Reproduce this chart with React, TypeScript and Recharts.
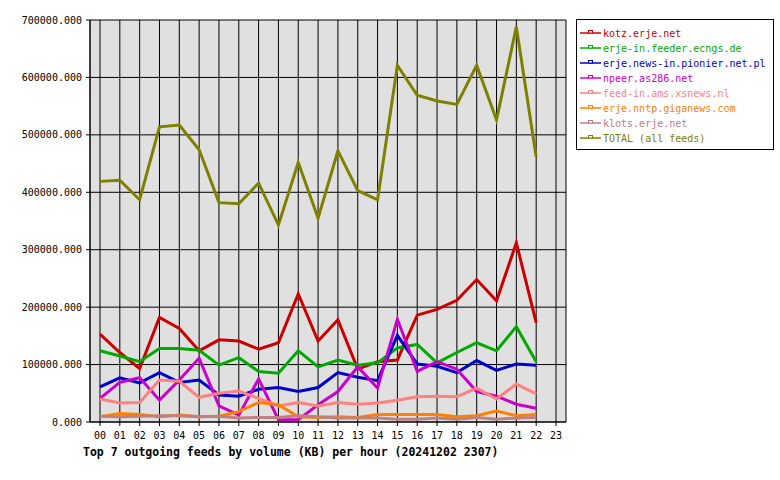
import React from 'react';
import { LineChart, Line, XAxis, YAxis, CartesianGrid } from 'recharts';

const hours = ['00', '01', '02', '03', '04', '05', '06', '07', '08', '09', '10', '11',
  '12', '13', '14', '15', '16', '17', '18', '19', '20', '21', '22', '23'];

const kotz = [153000, 121000, 93000, 182000, 163000, 124000, 143000, 141000, 127000, 138000, 223000, 141000,
  178000, 92000, 105000, 108000, 186000, 196000, 212000, 248000, 211000, 312000, 173000];
const ecngs = [124000, 115000, 105000, 128000, 128000, 125000, 99000, 112000, 88000, 85000, 124000, 96000,
  108000, 99000, 103000, 129000, 135000, 103000, 121000, 138000, 124000, 166000, 105000];
const pionier = [61000, 77000, 68000, 86000, 69000, 73000, 47000, 45000, 57000, 60000, 53000, 60000,
  86000, 78000, 72000, 151000, 101000, 97000, 86000, 107000, 90000, 101000, 99000];
const npeer = [41000, 69000, 77000, 38000, 73000, 111000, 28000, 12000, 75000, 4000, 4000, 30000,
  53000, 96000, 59000, 179000, 88000, 105000, 92000, 53000, 45000, 31000, 24000];
const xsnews = [40000, 33000, 34000, 73000, 71000, 43000, 50000, 54000, 41000, 28000, 34000, 28000,
  34000, 31000, 33000, 38000, 44000, 45000, 44000, 59000, 40000, 66000, 49000];
const giganews = [9000, 15000, 13000, 9000, 12000, 9000, 10000, 18000, 34000, 30000, 9000, 8000,
  9000, 8000, 13000, 13000, 13000, 13000, 9000, 11000, 19000, 11000, 13000];
const klots = [10000, 9000, 10000, 11000, 11000, 9000, 10000, 7000, 8000, 8000, 11000, 9000,
  7000, 7000, 7000, 5000, 5000, 7000, 5000, 8000, 5000, 7000, 8000];
const total = [419000, 421000, 387000, 514000, 517000, 474000, 382000, 380000, 416000, 343000, 452000, 355000,
  472000, 403000, 387000, 621000, 569000, 559000, 553000, 621000, 526000, 688000, 462000];

const yTicks = [0, 100000, 200000, 300000, 400000, 500000, 600000, 700000];

const series = [
  { key: 'kotz', name: 'kotz.erje.net', color: '#cc0000', values: kotz },
  { key: 'ecngs', name: 'erje-in.feeder.ecngs.de', color: '#00aa00', values: ecngs },
  { key: 'pionier', name: 'erje.news-in.pionier.net.pl', color: '#0000cc', values: pionier },
  { key: 'npeer', name: 'npeer.as286.net', color: '#cc00cc', values: npeer },
  { key: 'xsnews', name: 'feed-in.ams.xsnews.nl', color: '#ff8080', values: xsnews },
  { key: 'giganews', name: 'erje.nntp.giganews.com', color: '#ff8000', values: giganews },
  { key: 'klots', name: 'klots.erje.net', color: '#c08080', values: klots },
  { key: 'total', name: 'TOTAL (all feeds)', color: '#808000', values: total },
];

const rows = hours.map((hour, i) => {
  const row: Record<string, string | number | null> = { hour };
  series.forEach((s) => { row[s.key] = i < s.values.length ? s.values[i] : null; });
  return row;
});

const mono = '"DejaVu Sans Mono", "Liberation Mono", monospace';
const tickStyle = { fontSize: 10, fill: '#000', fontFamily: mono };

function LegendBox() {
  return (
    <svg width={200} height={132} style={{ position: 'absolute', left: 576, top: 19 }}>
      <rect x={0.5} y={0.5} width={197} height={130} fill="#fff" stroke="#000" />
      {series.map((s, i) => {
        const cy = 14 + i * 15;
        return (
          <g key={s.key}>
            <line x1={4} x2={25} y1={cy} y2={cy} stroke={s.color} strokeWidth={1.5} />
            <rect x={12.5} y={cy - 2.5} width={4} height={2.5} fill="#fff" stroke={s.color} strokeWidth={1} />
            <text x={27} y={cy} dy="0.35em" fontSize={10} fontFamily={mono} fill={s.color}>{s.name}</text>
          </g>
        );
      })}
    </svg>
  );
}

export default function App() {
  return (
    <div style={{ position: 'absolute', left: 0, top: 0, width: 780, height: 480, background: '#fff' }}>
      <LineChart width={780} height={480} data={rows} margin={{ top: 20, right: 214, bottom: 28, left: 0 }}>
        <CartesianGrid stroke="#000" fill="#e0e0e0" fillOpacity={1} />
        <XAxis
          dataKey="hour"
          interval={0}
          padding={{ left: 10, right: 10 }}
          height={30}
          tickSize={4}
          tickMargin={6}
          tick={tickStyle}
          tickLine={{ stroke: '#000' }}
          axisLine={{ stroke: '#000' }}
        />
        <YAxis
          width={90}
          domain={[0, 700000]}
          ticks={yTicks}
          interval={0}
          tickFormatter={(v) => Number(v).toFixed(3)}
          tickSize={4}
          tickMargin={4}
          tick={tickStyle}
          tickLine={{ stroke: '#000' }}
          axisLine={{ stroke: '#000' }}
        />
        <YAxis
          yAxisId="border"
          orientation="right"
          width={0}
          tick={false}
          tickLine={false}
          axisLine={{ stroke: '#000' }}
        />
        {series.map((s) => (
          <Line
            key={s.key}
            type="linear"
            dataKey={s.key}
            name={s.name}
            stroke={s.color}
            strokeWidth={3}
            dot={false}
            activeDot={false}
            isAnimationActive={false}
          />
        ))}
      </LineChart>
      <LegendBox />
      <div
        style={{
          position: 'absolute', left: 83, top: 445, fontFamily: mono, fontWeight: 'bold',
          fontSize: 11.5, color: '#000', whiteSpace: 'nowrap',
        }}
      >
        Top 7 outgoing feeds by volume (KB) per hour (20241202 2307)
      </div>
    </div>
  );
}
